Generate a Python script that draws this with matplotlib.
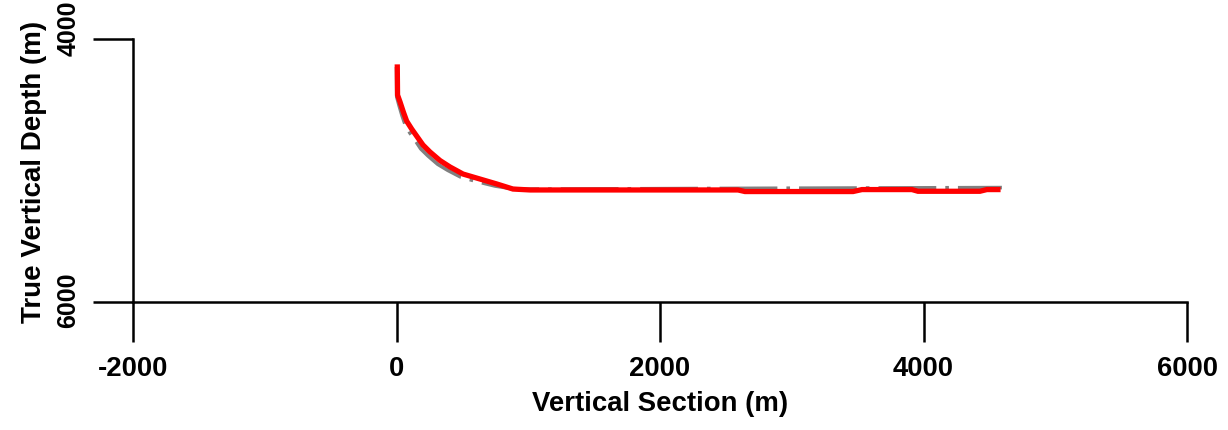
import numpy as np
import matplotlib.pyplot as plt
import matplotlib.transforms as mtransforms

plt.rcParams["font.family"] = ["Liberation Sans", "DejaVu Sans"]
plt.rcParams["font.weight"] = "bold"
plt.rcParams["axes.unicode_minus"] = False

# actual well path (vertical section, true vertical depth), metres
actual_vs = [6, 8, 27, 52, 77, 115, 153, 201, 254, 330, 406, 505, 634, 763, 884, 1014,
             2592, 2645, 3465, 3533, 3912, 3958, 4428, 4481, 4565]
actual_tvd = [4213, 4426, 4479, 4555, 4624, 4684, 4738, 4806, 4859, 4924, 4973, 5027, 5065, 5103, 5141, 5148,
              5148, 5160, 5160, 5145, 5145, 5158, 5158, 5145, 5145]

# planned well path
plan_vs = [0, 2, 18, 42, 66, 100, 140, 184, 238, 312, 388, 488, 618, 748, 875, 1000, 2600, 4595]
plan_tvd = [4213, 4440, 4500, 4582, 4652, 4712, 4768, 4835, 4888, 4952, 4998, 5050, 5086, 5118, 5138, 5142, 5136, 5130]

x_ticks = [-2000, 0, 2000, 4000, 6000]
y_ticks = [4000, 6000]

fig = plt.figure(figsize=(12.28, 4.31), dpi=100)
ax = fig.add_axes([133/1228, 1-303/431, (1187-133)/1228, (303-40)/431])

ax.plot(plan_vs, plan_tvd, color="#808080", lw=2.6, linestyle=(0, (16, 2.5, 1, 2.5)),
        solid_capstyle="butt")
ax.plot(actual_vs, actual_tvd, color="red", lw=3.8, solid_joinstyle="miter")

ax.set_xlim(-2000, 6000)
ax.set_ylim(6000, 4000)
ax.set_xticks(x_ticks)
ax.set_yticks(y_ticks)
ax.set_yticklabels([str(v) for v in y_ticks], rotation=90, va="center",
                   fontsize=18, fontweight="bold")

for s in ["top", "right"]:
    ax.spines[s].set_visible(False)
for s in ["left", "bottom"]:
    ax.spines[s].set_linewidth(1.8)

ax.tick_params(direction="out", length=28.8, width=1.8)
ax.tick_params(axis="x", pad=9, labelsize=19.8)
ax.tick_params(axis="y", pad=9)

# the depth labels sit a little above their ticks
offsets = [8.6, 2.2]
for lab, off in zip(ax.get_yticklabels(), offsets):
    lab.set_transform(lab.get_transform() + mtransforms.ScaledTranslation(0, off/72, fig.dpi_scale_trans))

ax.set_xlabel("Vertical Section (m)", fontsize=19.8, fontweight="bold", labelpad=7)
ax.set_ylabel("True Vertical Depth (m)", fontsize=20, fontweight="bold", labelpad=7)

plt.savefig("out.png", dpi=100)
